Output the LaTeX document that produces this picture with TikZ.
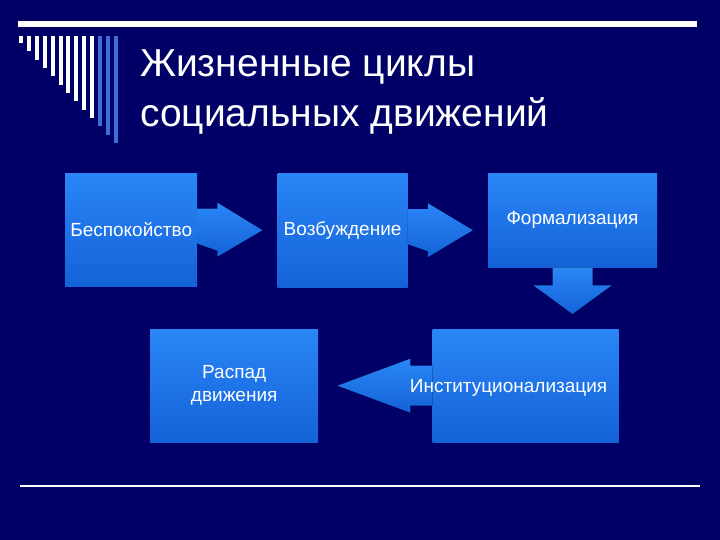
\documentclass[tikz,border=0pt]{standalone}
\usepackage{fontspec}
\setmainfont{Liberation Sans}
\usepackage{tikz}
\usetikzlibrary{positioning,calc}
\usepackage{xcolor}
\definecolor{slidenavy}{HTML}{000066}
\definecolor{boxtop}{HTML}{2A86F6}
\definecolor{boxbottom}{HTML}{1462D8}
\definecolor{stripeblue}{HTML}{3A70D8}

\begin{document}
\begin{tikzpicture}[
  x=1pt, y=-1pt,
  node distance=80pt,
  stagebox/.style={
    draw=none,
    top color=boxtop,
    bottom color=boxbottom,
    inner sep=0pt,
    align=center,
    text=white,
    font=\fontsize{19}{23}\selectfont
  },
  blockarrow/.style={
    draw=none,
    top color=boxtop,
    bottom color=boxbottom
  },
  titletext/.style={
    text=white,
    font=\fontsize{39}{50}\selectfont,
    inner sep=0pt
  }
]

  % Background and frame
  \fill[slidenavy] (0,0) rectangle (720,540);
  \useasboundingbox (0,0) rectangle (720,540);
  \fill[white] (18,21) rectangle (697,27);
  \foreach \i in {0,...,12}{
    \ifnum\i<10
      \fill[white] ({19+7.9*\i},36) rectangle ({23+7.9*\i},{43+8.35*\i});
    \else
      \fill[stripeblue] ({19+7.9*\i},36) rectangle ({23+7.9*\i},{43+8.35*\i});
    \fi
  }
  \draw[white, line width=1.5pt] (20,486) -- (700,486);

  % Title
  \node[titletext, anchor=base west] (title1) at (140,77) {Жизненные циклы};
  \node[titletext, anchor=base west] (title2) at (140,127) {социальных движений};

  % --- TOP ROW ---
  \node[stagebox, minimum width=132pt, minimum height=113pt, anchor=north west] (s1) at (65,173) {Беспокойство};
  \node[stagebox, minimum width=130pt, minimum height=114pt, right=80pt of s1.north east, anchor=north west] (s2) {Возбуждение};
  \node[stagebox, minimum width=169pt, minimum height=94pt, right=80pt of s2.north east, anchor=north west] (s3) {Формализация};

  % --- LOWER ROW ---
  \node[stagebox, minimum width=168pt, minimum height=113pt, anchor=north west] (s4) at (150,329) {Распад\\движения};
  \node[stagebox, minimum width=186pt, minimum height=113pt, right=114pt of s4] (s5) {};

  % Block arrows
  \fill[blockarrow] ($(s1.east)+(0,-21)$) -- ++(20,0) -- ++(0,-6) -- ($(s2.west)+(-15,0)$)
    -- ($(s1.east)+(20,27)$) -- ++(0,-6) -- ($(s1.east)+(0,14)$) -- cycle;
  \fill[blockarrow] ($(s2.east)+(0,-21)$) -- ++(20,0) -- ++(0,-6) -- ($(s3.west)+(-15,10)$)
    -- ($(s2.east)+(20,27)$) -- ++(0,-6) -- ($(s2.east)+(0,14)$) -- cycle;
  \fill[blockarrow] ($(s3.south)+(-20,0)$) -- ++(0,18) -- ++(-19,0) -- ($(s5.north -| s3.south)+(0,-15)$)
    -- ($(s3.south)+(39,18)$) -- ++(-19,0) -- ($(s3.south)+(20,0)$) -- cycle;
  \fill[blockarrow] ($(s5.west)+(0,-20)$) -- ++(-22,0) -- ++(0,-7) -- ($(s4.east)+(19,0)$)
    -- ($(s5.west)+(-22,27)$) -- ++(0,-7) -- ($(s5.west)+(0,20)$) -- cycle;

  % Label over arrow and box
  \node[text=white, font=\fontsize{19}{23}\selectfont, inner sep=0pt] (s5label)
    at ($(s5.center)+(-17,2)$) {Институционализация};

\end{tikzpicture}
\end{document}
